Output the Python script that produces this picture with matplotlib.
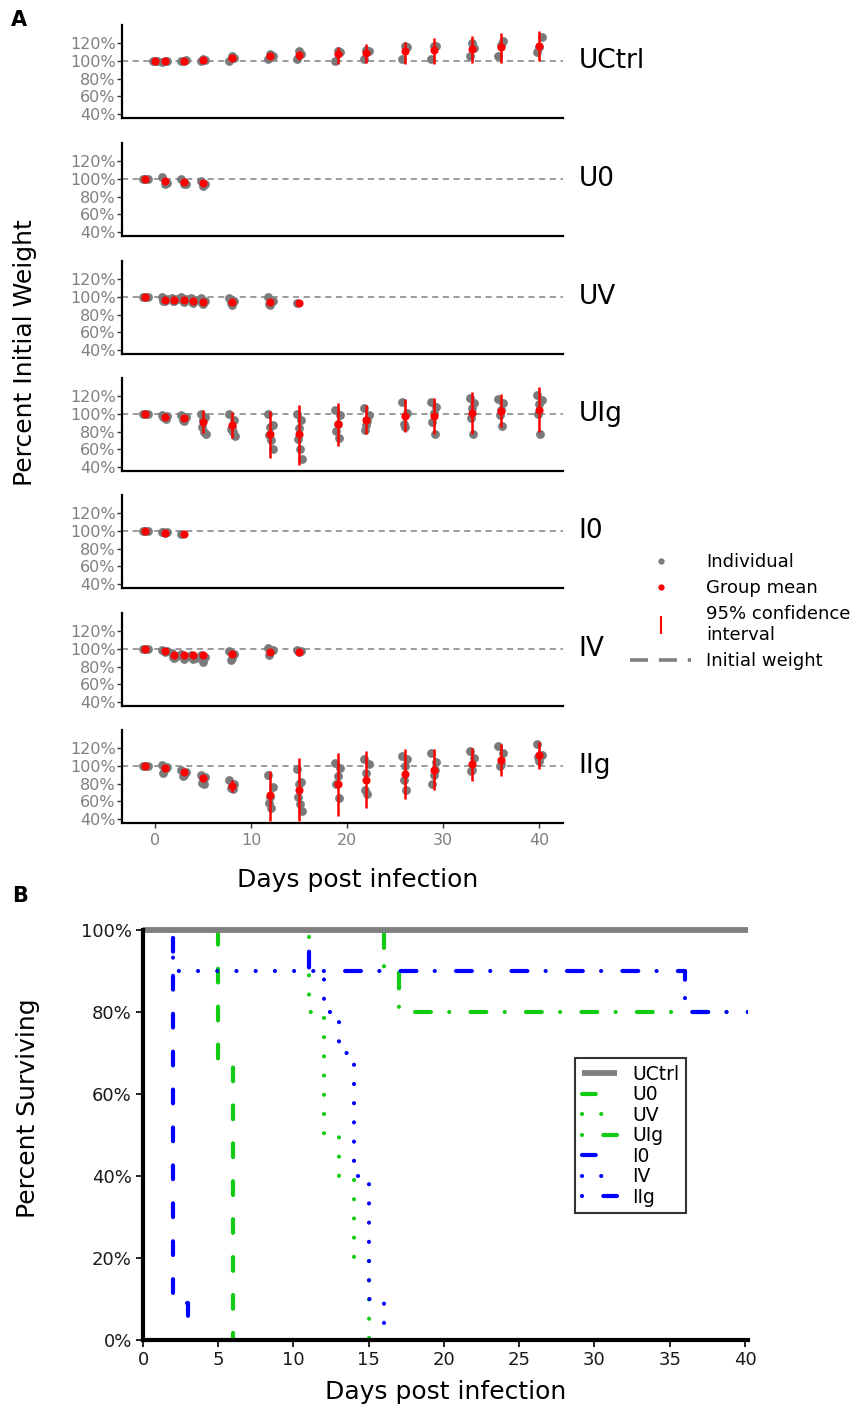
import numpy as np
import matplotlib.pyplot as plt
from matplotlib.lines import Line2D
from matplotlib.patches import Rectangle

plt.rcParams['font.family'] = ['DejaVu Sans']

# ---------------- panel A data: percent of initial weight ----------------
groups = ['UCtrl', 'U0', 'UV', 'UIg', 'I0', 'IV', 'IIg']

uctrl_days = [0, 1, 3, 5, 8, 12, 15, 19, 22, 26, 29, 33, 36, 40]
uctrl_mean = [100, 99.5, 100, 100.8, 103, 105.3, 106.8, 107, 108.7, 111.3, 111.7, 113.6, 115, 117]
uctrl_lo = [99.5, 98.5, 99.5, 99.5, 101, 103.5, 101, 96.6, 97.7, 96.6, 95.8, 97.7, 97.7, 100]
uctrl_hi = [100.5, 100.5, 100.5, 102, 105, 107, 111, 115.5, 118.9, 121.5, 125, 127.5, 130.6, 133]
uctrl_ind = [[100, 100, 99.5], [99, 100, 99.5], [100, 100.5, 99.5], [100, 101, 101.5],
             [100, 103, 105.7], [102, 105, 108], [102, 108, 110.6], [100, 110, 111],
             [102, 111, 112], [102.3, 115.5, 116], [102, 116.6, 116], [105.7, 114, 120],
             [105.3, 121.9, 118], [109.8, 126.8, 115]]

u0_days = [-1, 1, 3, 5]
u0_mean = [100, 97, 96, 95]
u0_lo = [99.7, 93, 93, 92.5]
u0_hi = [100.3, 101, 99, 97.5]
u0_ind = [[100, 100, 100], [101.5, 95, 94], [99.6, 94, 94.5], [97, 94, 92]]

uv_days = [-1, 1, 2, 3, 4, 5, 8, 12, 15]
uv_mean = [100, 96.6, 96.6, 96.2, 95.4, 94.3, 94.3, 94, 92.8]
uv_lo = [99.7, 95, 95, 94.5, 93.5, 92, 92, 91, 92.5]
uv_hi = [100.3, 98, 98, 98, 97.5, 96.5, 96.5, 97, 93.1]
uv_ind = [[100, 100, 100, 100], [100, 97, 95, 94.7], [99, 97, 95.5, 95], [100, 97, 94, 95],
          [99, 96, 93, 94], [98, 95, 92, 93.5], [98.5, 95, 91, 93], [100, 95, 91, 92], [92.8]]

uig_days = [-1, 1, 3, 5, 8, 12, 15, 19, 22, 26, 29, 33, 36, 40]
uig_mean = [100, 96, 95, 91, 87.3, 77.7, 77, 88, 93, 97, 97, 100.4, 103.5, 104.6]
uig_lo = [99.5, 94, 92.5, 78.5, 72.7, 50.8, 42, 64, 77.7, 79, 77.7, 77, 85.4, 79.6]
uig_hi = [100.5, 98, 98, 104, 102, 103.5, 110, 111.5, 110, 116, 118, 124.6, 122, 130.4]
uig_ind = [[100, 100, 100, 100], [98, 97, 95, 96, 94], [99, 96, 92, 93, 95],
           [100, 96, 93, 85, 80, 77.7], [100, 93, 85, 83, 80, 75],
           [100, 87, 85, 75.8, 70, 60.4], [100, 93, 83.5, 72, 60.4, 49.6],
           [104.6, 99, 89, 81, 72.3], [106.5, 99, 87, 81.5, 92], [113.5, 100.8, 85, 88],
           [113.5, 107.7, 100.8, 91, 77.7], [118, 112, 106, 95, 77],
           [116, 112, 104, 99, 86.5], [121, 115.8, 110.4, 100, 77.7]]

i0_days = [-1, 1, 3]
i0_mean = [100, 97.7, 96.2]
i0_lo = [99.7, 96.5, 96]
i0_hi = [100.3, 99, 96.4]
i0_ind = [[100, 100, 100], [99, 98, 97, 98.5], [96.2]]

iv_days = [-1, 1, 2, 3, 4, 5, 8, 12, 15]
iv_mean = [100, 97, 92.8, 92.8, 92.8, 92.8, 94, 96.6, 96.6]
iv_lo = [99.7, 96, 90.5, 90.5, 90.5, 90, 90.5, 94, 95]
iv_hi = [100.3, 98, 95, 95, 95, 95.5, 97.5, 99, 98]
iv_ind = [[100, 100, 100], [98, 97.5, 96.5], [95, 92, 89.5, 91], [94, 91, 89, 92],
          [93, 90, 88.6, 92], [93, 91, 85.5, 92], [97, 94, 90, 87.5],
          [100.8, 98, 96, 93], [98, 97, 96]]

iig_days = [-1, 1, 3, 5, 8, 12, 15, 19, 22, 26, 29, 33, 36, 40]
iig_mean = [100, 97, 93, 86, 77, 67.4, 72.5, 79, 84, 90.7, 95.7, 101.5, 106, 112.4]
iig_lo = [99.5, 95, 90, 82, 70.5, 37.6, 37.6, 44, 53, 62.8, 72.5, 83, 88, 96.5]
iig_hi = [100.5, 99, 96, 90, 83.7, 93.8, 108.5, 114, 116, 118.6, 119, 120, 124.8, 126.7]
iig_ind = [[100, 100, 100, 100], [100.8, 98, 96, 92, 97], [95.7, 93, 90, 88, 92],
           [90, 87, 84, 81, 79], [84, 80, 77, 75, 74.4], [90, 76, 64.7, 58, 53],
           [96.5, 82, 79, 64.7, 57, 49], [103.5, 97.7, 88, 79, 63.6],
           [107.4, 101.5, 92, 72.5, 68.6], [111, 107.4, 99.6, 84, 72.5],
           [114, 104, 90, 79, 95], [117, 109, 95.7, 93.8], [121.7, 114.3, 101.5, 100],
           [124, 112, 105.4, 110]]

weights = [
    (uctrl_days, uctrl_mean, uctrl_lo, uctrl_hi, uctrl_ind),
    (u0_days, u0_mean, u0_lo, u0_hi, u0_ind),
    (uv_days, uv_mean, uv_lo, uv_hi, uv_ind),
    (uig_days, uig_mean, uig_lo, uig_hi, uig_ind),
    (i0_days, i0_mean, i0_lo, i0_hi, i0_ind),
    (iv_days, iv_mean, iv_lo, iv_hi, iv_ind),
    (iig_days, iig_mean, iig_lo, iig_hi, iig_ind),
]

# ---------------- panel B data: Kaplan-Meier survival ----------------
surv_t = {
    'UCtrl': [0, 42],
    'U0': [0, 5, 6],
    'UV': [0, 11, 12, 13, 14, 15],
    'UIg': [0, 16, 17, 42],
    'I0': [0, 2, 3],
    'IV': [0, 2, 12, 13, 14, 15, 16],
    'IIg': [0, 11, 36, 42],
}
surv_p = {
    'UCtrl': [100, 100],
    'U0': [100, 66.7, 0],
    'UV': [100, 80, 50, 40, 20, 0],
    'UIg': [100, 90, 80, 80],
    'I0': [100, 9.09, 0],
    'IV': [100, 90, 80, 70, 40, 10, 0],
    'IIg': [100, 90, 80, 80],
}

W, H = 863, 1416
fig = plt.figure(figsize=(W / 100, H / 100), dpi=100)


def box(l, t, r, b):
    return [l / W, 1 - b / H, (r - l) / W, (b - t) / H]


gray_txt = '#808080'
jit = np.array([-0.25, 0.25, 0.0, -0.12, 0.12, 0.3])

tops = [25, 143, 261, 378, 495, 613, 730]
for i, (g, (days, mean, lo, hi, ind)) in enumerate(zip(groups, weights)):
    ax = fig.add_axes(box(122, tops[i], 563, tops[i] + 93))
    ax.axhline(100, color='#808080', lw=1.1, ls=(0, (4, 3)), zorder=1)
    for d, vals in zip(days, ind):
        ax.scatter(d + jit[:len(vals)], vals, s=40, color='#7a7a7a', linewidths=0, zorder=2)
    ax.vlines(days, lo, hi, color='red', lw=1.8, zorder=3)
    ax.scatter(days, mean, s=34, color='red', linewidths=0, zorder=4)
    ax.set_xlim(-3.43, 42.47)
    ax.set_ylim(35.8, 140)
    ax.set_yticks([40, 60, 80, 100, 120])
    ax.set_yticklabels(['40%', '60%', '80%', '100%', '120%'])
    for s in ['top', 'right']:
        ax.spines[s].set_visible(False)
    for s in ['left', 'bottom']:
        ax.spines[s].set_linewidth(1.6)
        ax.spines[s].set_color('black')
    ax.tick_params(axis='y', labelsize=11.5, labelcolor=gray_txt, color='#333333',
                   length=3.5, width=1, pad=1)
    if i < 6:
        ax.set_xticks([])
    else:
        ax.set_xticks([0, 10, 20, 30, 40])
        ax.tick_params(axis='x', labelsize=11.5, labelcolor=gray_txt, color='#333333',
                       length=3.5, width=1, pad=4)
    ax.text(1.035, (100 - 35.8) / (140 - 35.8), g, transform=ax.transAxes,
            fontsize=19, ha='left', va='center')

fig.text(11 / W, 1 - 10 / H, 'A', fontsize=15, fontweight='bold', va='top')
fig.text(25 / W, 1 - 353 / H, 'Percent Initial Weight', rotation=90, fontsize=18,
         ha='center', va='center')
fig.text(358 / W, 1 - 880 / H, 'Days post infection', fontsize=18, ha='center', va='center')

leg_handles = [
    Line2D([], [], ls='none', marker='o', ms=3.5, color='#7a7a7a'),
    Line2D([], [], ls='none', marker='o', ms=3.5, color='red'),
    Line2D([], [], ls='none', marker='|', ms=13, mew=1.5, color='red'),
    Line2D([], [], color='#808080', lw=2.6, ls=(0, (5, 3))),
]
leg_labels = ['Individual', 'Group mean', '95% confidence\ninterval', 'Initial weight']
fig.legend(leg_handles, leg_labels, loc='upper left', bbox_to_anchor=(630 / W, 1 - 553 / H),
           frameon=False, fontsize=13, handlelength=3.4, handletextpad=0.8,
           labelspacing=0.45, borderaxespad=0, borderpad=0)

# ---------------- panel B ----------------
green = '#11cc11'
blue = '#0000ff'
dashed = (0, (3.3, 5.8))
dotted = (0, (0.01, 4.6))
dashdot = (0, (0.01, 5.1, 3.8, 4.4))
styles = {
    'UCtrl': ('#808080', '-', 4.2),
    'U0': (green, dashed, 3),
    'UV': (green, dotted, 3),
    'UIg': (green, dashdot, 3),
    'I0': (blue, dashed, 3),
    'IV': (blue, dotted, 3),
    'IIg': (blue, dashdot, 3),
}

axb = fig.add_axes(box(143, 930, 748, 1340))
clip = Rectangle((0, -0.02), 1, 1.05, transform=axb.transAxes, visible=False)
axb.add_patch(clip)
for g in groups:
    c, ls, lw = styles[g]
    z = 5 if g == 'UCtrl' else 3
    ln, = axb.step(surv_t[g], surv_p[g], where='post', color=c, ls=ls, lw=lw,
                   dash_capstyle='round', solid_capstyle='butt', label=g, zorder=z)
    ln.set_clip_path(clip)
axb.set_xlim(0, 40.2)
axb.set_ylim(0, 100)
axb.set_xticks(range(0, 41, 5))
axb.set_yticks([0, 20, 40, 60, 80, 100])
axb.set_yticklabels(['0%', '20%', '40%', '60%', '80%', '100%'])
for s in ['top', 'right']:
    axb.spines[s].set_visible(False)
for s in ['left', 'bottom']:
    axb.spines[s].set_linewidth(3)
    axb.spines[s].set_color('black')
    axb.spines[s].set_zorder(6)
axb.tick_params(labelsize=13, labelcolor='#1a1a1a', length=5, width=1.2, pad=3)
axb.set_xlabel('Days post infection', fontsize=18, labelpad=8)
fig.text(28 / W, 1 - 1108 / H, 'Percent Surviving', rotation=90, fontsize=18,
         ha='center', va='center')
fig.text(12 / W, 1 - 886 / H, 'B', fontsize=15, fontweight='bold', va='top')

lg = axb.legend(loc='upper left', bbox_to_anchor=(575 / W, 1 - 1058 / H),
                bbox_transform=fig.transFigure, fontsize=13.5, frameon=True,
                fancybox=False, edgecolor='black', handlelength=1.9,
                handletextpad=0.8, labelspacing=0.08, borderpad=0.35, borderaxespad=0)
lg.get_frame().set_linewidth(1.5)
lg.set_zorder(10)

fig.savefig('out.png', dpi=100)
